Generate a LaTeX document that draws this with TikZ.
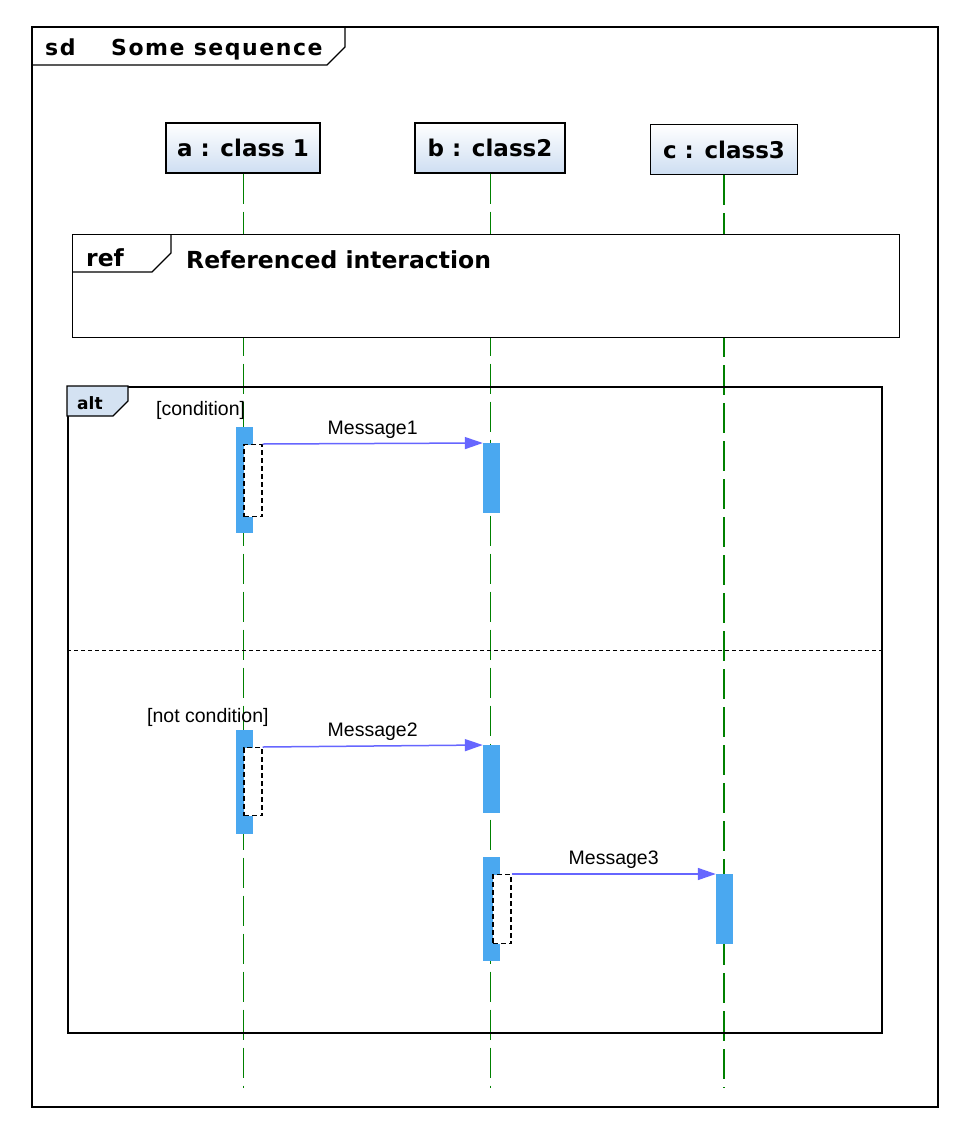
\documentclass[tikz,border=0pt]{standalone}
\usepackage{fontspec}
\setmainfont{Liberation Sans}
\newfontfamily\dvb{DejaVu Sans}
\newfontfamily\dvbwide{DejaVu Sans}[LetterSpace=7]
\usetikzlibrary{arrows.meta}
\definecolor{objblue}{RGB}{206,222,242}
\definecolor{actblue}{RGB}{74,168,240}
\definecolor{msgblue}{RGB}{102,102,255}
\definecolor{lifegreen}{RGB}{0,128,0}
\definecolor{tabblue}{RGB}{212,226,242}
\begin{document}
\begin{tikzpicture}[x=1pt,y=-1pt,
  obj/.style={draw, line width=1.3pt, top color=white, bottom color=objblue, minimum height=50pt, inner sep=0pt, font=\dvb\bfseries\fontsize{23}{23}\selectfont},
  act/.style={fill=actblue, minimum width=17pt, inner sep=0pt, anchor=north},
  dact/.style={draw, fill=white, line width=1.2pt, dash pattern=on 5pt off 3pt, minimum width=18pt, inner sep=0pt, anchor=north},
  life/.style={draw=lifegreen, line width=1pt, dash pattern=on 30pt off 8pt},
  msg/.style={draw=msgblue, line width=1.5pt, -{Triangle[length=18pt,width=12pt]}},
  msglabel/.style={anchor=base, yshift=9.5pt, font=\fontsize{19.5}{19.5}\selectfont},
  guard/.style={anchor=base west, inner sep=0pt, font=\fontsize{19.5}{19.5}\selectfont},
  frametitle/.style={anchor=base west, inner sep=0pt, font=\dvbwide\bfseries\fontsize{22}{22}\selectfont},
  frame/.style={draw, line width=1.3pt}
]
\useasboundingbox (0,0) rectangle (969,1138);
\fill[white] (0,0) rectangle (969,1138);

% outer sd frame
\draw[frame, line width=1.5pt] (32,27) rectangle (938,1107);
\draw[frame] (32,65) -- (327,65) -- (345,47) -- (345,27);
\node[frametitle] (sdlbl) at (45,55) {sd};
\node[frametitle] (sdname) at (111,55) {Some sequence};

% objects
\node[obj, minimum width=154pt] (a) at (243,148) {a : class 1};
\node[obj, minimum width=150pt] (b) at (490,148) {b : class2};
\node[obj, minimum width=147pt] (c) at (724,149.5) {c : class3};

% lifelines
\coordinate (aend) at (243,1088);
\coordinate (bend) at (490,1088);
\coordinate (cend) at (724,1088);
\draw[life] (a.south) -- (aend);
\draw[life] (b.south) -- (bend);
\draw[life, line width=2pt] (c.south) -- (cend);

% ref frame
\node[frame, fill=white, minimum width=827pt, minimum height=103pt, anchor=north west, inner sep=0pt] (ref) at (72,234) {};
\draw[frame] (72,272) -- (152,272) -- (171,253) -- (171,234);
\node[anchor=base west, inner sep=0pt, font=\dvb\bfseries\fontsize{23.5}{23.5}\selectfont] (reflbl) at (86,266) {ref};
\node[anchor=base west, inner sep=0pt, font=\dvb\bfseries\fontsize{23.5}{23.5}\selectfont] (refname) at (186,268) {Referenced interaction};

% alt frame
\node[frame, line width=1.6pt, minimum width=814pt, minimum height=646pt, anchor=north west, inner sep=0pt] (alt) at (67,386) {};
\filldraw[fill=tabblue, line width=1.3pt] (67,386) -- (67,416) -- (113,416) -- (128,401) -- (128,386) -- cycle;
\node[anchor=base west, inner sep=0pt, font=\dvb\bfseries\fontsize{17}{17}\selectfont] (altlbl) at (77,409) {alt};
\coordinate (divl) at (67,650);
\coordinate (divr) at (881,650);
\draw[line width=1pt, dash pattern=on 4pt off 3pt] (divl) -- (divr);
\node[guard] (g1) at (156,415) {[condition]};
\node[guard] (g2) at (147,722) {[not condition]};

% activations
\node[act, minimum height=106pt] (a1) at (244.5,427) {};
\node[dact, minimum height=72pt] (a1d) at (253,444) {};
\node[act, minimum height=70pt] (b1) at (491.5,443) {};

\node[act, minimum height=104pt] (a2) at (244.5,730) {};
\node[dact, minimum height=68pt] (a2d) at (253,747) {};
\node[act, minimum height=68pt] (b2) at (491.5,745) {};

\node[act, minimum height=104pt] (b3) at (491.5,857) {};
\node[dact, minimum height=69pt] (b3d) at (502,874) {};
\node[act, minimum height=70pt] (c3) at (724.5,874) {};

% messages
\draw[msg] (a1d.north east) -- (b1.north west) node[msglabel, pos=0.5] {Message1};
\draw[msg] (a2d.north east) -- (b2.north west) node[msglabel, pos=0.5] {Message2};
\draw[msg] (b3d.north east) -- (c3.north west) node[msglabel, pos=0.5] {Message3};
\end{tikzpicture}
\end{document}
